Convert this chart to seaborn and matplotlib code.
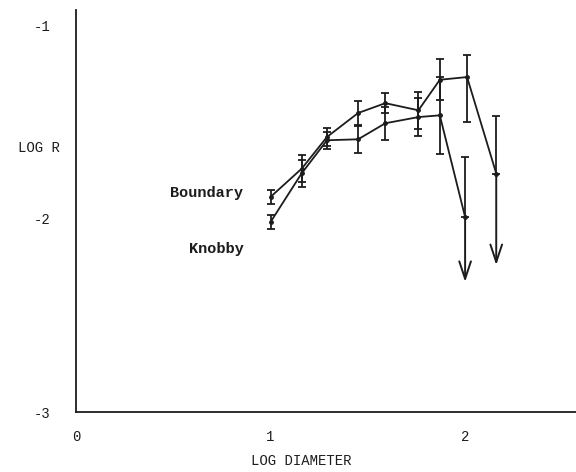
import matplotlib
matplotlib.use("Agg")
import matplotlib.pyplot as plt
import seaborn as sns
import pandas as pd
import numpy as np

# ---- data ----
boundary_x = [1.00, 1.16, 1.29, 1.45, 1.59, 1.76, 1.87, 2.01, 2.16]
boundary_y = [-1.887, -1.741, -1.577, -1.453, -1.402, -1.439, -1.281, -1.267, -1.766]
boundary_err_lo = [0.036, 0.07, 0.045, 0.06, 0.05, 0.095, 0.105, 0.234, 0.0]
boundary_err_hi = [0.036, 0.07, 0.045, 0.06, 0.05, 0.095, 0.105, 0.113, 0.30]
boundary_arrow_tip = -2.240

knobby_x = [1.00, 1.16, 1.29, 1.45, 1.59, 1.76, 1.87, 2.00]
knobby_y = [-2.017, -1.765, -1.594, -1.589, -1.506, -1.474, -1.465, -1.991]
knobby_err_lo = [0.036, 0.07, 0.045, 0.07, 0.085, 0.10, 0.20, 0.0]
knobby_err_hi = [0.036, 0.07, 0.045, 0.07, 0.085, 0.10, 0.20, 0.31]
knobby_arrow_tip = -2.327

series_names = ["Boundary", "Knobby"]
x_ticks = [0, 1, 2]
y_ticks = [-1, -2, -3]
y_tick_labels = ["-1", "-2", "-3"]

# ---- styling ----
sns.set_style("white")
plt.rcParams["font.family"] = ["Liberation Mono", "DejaVu Sans Mono"]
plt.rcParams["axes.unicode_minus"] = False
ink = "#1c1c1c"

df = pd.DataFrame({
    "x": boundary_x + knobby_x,
    "y": boundary_y + knobby_y,
    "series": [series_names[0]] * len(boundary_x) + [series_names[1]] * len(knobby_x),
})

fig = plt.figure(figsize=(5.76, 4.72), dpi=100)
ax = fig.add_axes([76 / 576, 60 / 472, 500 / 576, 402 / 472])

sns.lineplot(data=df, x="x", y="y", hue="series", palette=[ink, ink],
             sort=False, marker="o", markersize=3.5, markeredgewidth=0,
             linewidth=1.3, legend=False, ax=ax, estimator=None)

for xs, ys, lo, hi in [(boundary_x, boundary_y, boundary_err_lo, boundary_err_hi),
                       (knobby_x, knobby_y, knobby_err_lo, knobby_err_hi)]:
    ax.errorbar(xs, ys, yerr=[lo, hi], fmt="none", ecolor=ink,
                elinewidth=1.3, capsize=3, capthick=1.3)

# upper-limit arrows
for xs, ys, tip in [(boundary_x, boundary_y, boundary_arrow_tip),
                    (knobby_x, knobby_y, knobby_arrow_tip)]:
    ax.annotate("", xy=(xs[-1], tip), xytext=(xs[-1], ys[-1]),
                arrowprops=dict(arrowstyle="->,head_length=0.9,head_width=0.3",
                                color=ink, lw=1.4, mutation_scale=14,
                                shrinkA=0, shrinkB=0))

# series labels
ax.text(0.86, boundary_y[0] + 0.02, series_names[0], ha="right", va="center",
        fontsize=11, color=ink, fontweight="bold")
ax.text(0.86, knobby_y[0] - 0.14, series_names[1], ha="right", va="center",
        fontsize=11, color=ink, fontweight="bold")

ax.set_xlim(0, 2.57)
ax.set_ylim(-3, -0.92)
ax.set_xticks(x_ticks)
ax.set_xticklabels([str(t) for t in x_ticks])
ax.set_yticks(y_ticks)
ax.set_yticklabels(y_tick_labels)

for s in ["top", "right"]:
    ax.spines[s].set_visible(False)
for s in ["left", "bottom"]:
    ax.spines[s].set_color(ink)
    ax.spines[s].set_linewidth(1.3)

ax.tick_params(axis="y", direction="inout", length=8, width=1.2, colors=ink,
               pad=14, labelsize=10)
ax.tick_params(axis="x", direction="inout", length=6, width=1.2, colors=ink,
               pad=10, labelsize=10)

ax.set_xlabel("LOG DIAMETER", fontsize=10, color=ink, va="center")
ax.xaxis.set_label_coords(0.45, -0.122)
ax.set_ylabel("LOG R", fontsize=10, color=ink, rotation=0, ha="center", va="center")
ax.yaxis.set_label_coords(-0.074, 0.657)

fig.savefig("out.png", dpi=100)
